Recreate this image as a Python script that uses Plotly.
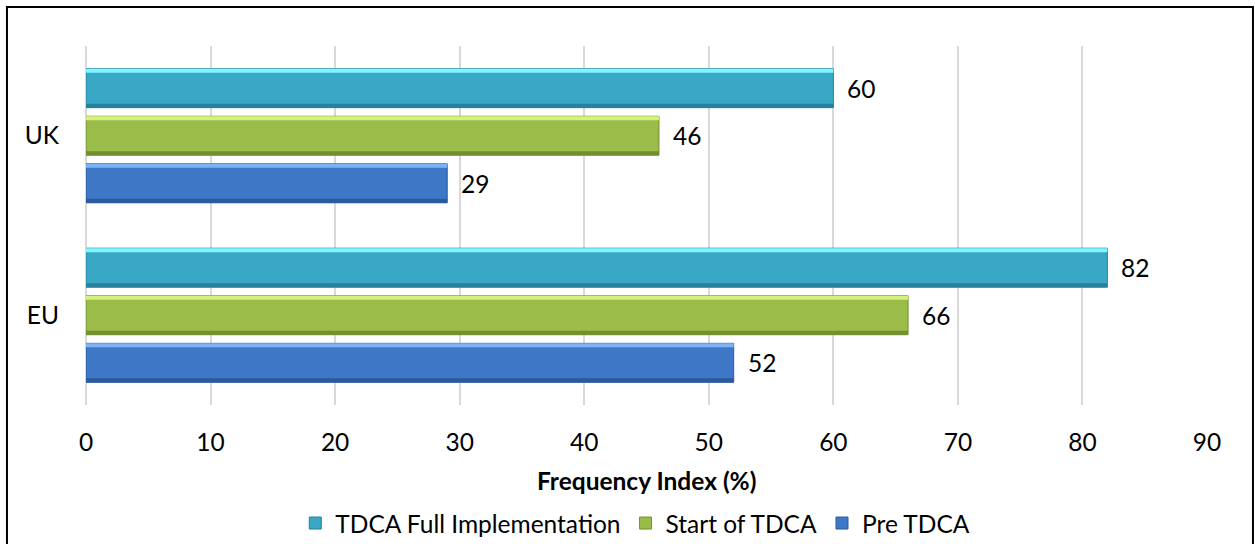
import plotly.graph_objects as go

# Frequency index by region and period
regions = ["EU", "UK"]
series_names = ["Pre TDCA", "Start of TDCA", "TDCA Full Implementation"]
pre_tdca = [52, 29]
start_tdca = [66, 46]
full_tdca = [82, 60]
x_ticks = [0, 10, 20, 30, 40, 50, 60, 70, 80, 90]

series_values = [pre_tdca, start_tdca, full_tdca]
# main, light top edge, dark bottom edge
palette = [
    ("#3E77C6", "#7AB4F7", "#2B5A9C"),
    ("#9BBC48", "#D6F27E", "#738F30"),
    ("#38A8C6", "#82F4FF", "#27819C"),
]
bar_w = 0.217
centres = [-0.265, 0.0, 0.265]
edge = 0.022

FONT = "Lato, 'Open Sans', sans-serif"
FS = 24.5

fig = go.Figure()
for name, vals, (main, light, dark), c in zip(series_names, series_values, palette, centres):
    off = c - bar_w / 2
    fig.add_trace(go.Bar(
        y=regions, x=vals, orientation="h", name=name,
        marker=dict(color=main, line=dict(color=dark, width=1)),
        offset=off, width=bar_w, hoverinfo="x+name",
    ))
    # bevel: light strip along the top, darker strip along the bottom
    fig.add_trace(go.Bar(
        y=regions, x=vals, orientation="h", showlegend=False,
        marker=dict(color=light, line=dict(width=0)),
        offset=off + bar_w - edge, width=edge, hoverinfo="skip",
    ))
    fig.add_trace(go.Bar(
        y=regions, x=vals, orientation="h", showlegend=False,
        marker=dict(color=dark, line=dict(width=0)),
        offset=off, width=edge, hoverinfo="skip",
    ))
    for r, v in zip(regions, vals):
        fig.add_annotation(
            x=v, y=r, yshift=c * 179.5, xanchor="left", xshift=12,
            text=str(v), showarrow=False,
            font=dict(family=FONT, size=FS, color="#000000"),
        )

fig.add_annotation(
    xref="paper", yref="paper", x=0.5, y=-0.209, yanchor="middle",
    text="<b>Frequency Index (%)</b>", showarrow=False,
    font=dict(family=FONT, size=FS, color="#000000"),
)

# chart frame
fig.add_shape(
    type="rect", xref="paper", yref="paper",
    x0=-0.0705, x1=1.041, y0=-0.42, y1=1.1086,
    line=dict(color="#000000", width=2), fillcolor="rgba(0,0,0,0)", layer="below",
)

fig.update_layout(
    width=1255, height=544,
    autosize=False,
    margin=dict(l=86, r=48, t=46, b=139, autoexpand=False),
    barmode="overlay",
    plot_bgcolor="#FFFFFF", paper_bgcolor="#FFFFFF",
    font=dict(family=FONT, size=FS, color="#000000"),
    showlegend=True,
    legend=dict(
        orientation="h", traceorder="reversed",
        x=0.49, xanchor="center",
        y=-0.329, yanchor="middle",
        font=dict(family=FONT, size=FS, color="#000000"),
        itemwidth=30,
    ),
    xaxis=dict(
        range=[0, 90], tickvals=x_ticks, showgrid=True,
        gridcolor="#D9D9D9", gridwidth=1.5, zeroline=True,
        zerolinecolor="#D9D9D9", zerolinewidth=1.5, showline=False,
        ticks="", ticklabelstandoff=20, fixedrange=True, automargin=False,
    ),
    yaxis=dict(
        categoryorder="array", categoryarray=regions, range=[-0.5, 1.5],
        showgrid=False, zeroline=False, showline=False, ticks="",
        ticklabelstandoff=26, fixedrange=True, automargin=False,
    ),
)

fig.write_html("out.html")
